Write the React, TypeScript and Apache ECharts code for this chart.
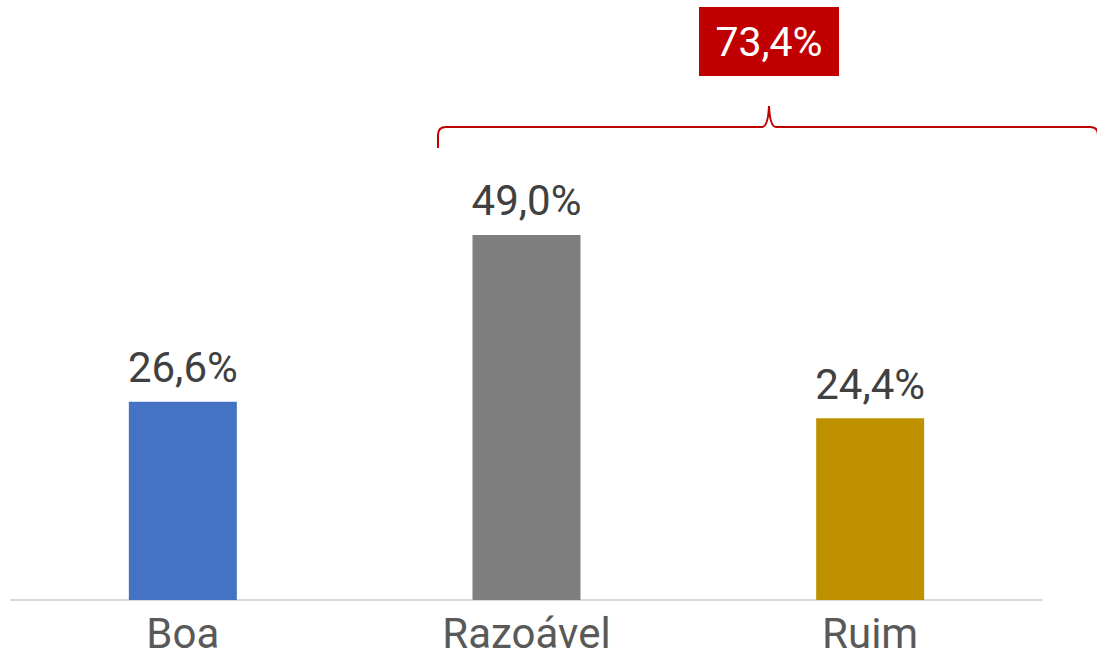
import React, { useEffect, useRef } from "react";
import * as echarts from "echarts";

const categories = ["Boa", "Razoável", "Ruim"];
const values = [26.6, 49.0, 24.4];
const barColors = ["#4472c4", "#7f7f7f", "#bf9000"];
const groupLabel = "73,4%";

const bracePath =
  "M438,148 L438,135 Q438,127 446,127 L762,127 Q768,127 769,106 Q770,127 776,127 L1090,127 Q1098,127 1098,135 L1098,148";

export default function App() {
  const ref = useRef<HTMLDivElement>(null);
  useEffect(() => {
    if (!ref.current) return;
    try {
      echarts.graphic.registerShape("brace", echarts.graphic.extendPath(bracePath, {}));
    } catch (e) {}
    const chart = echarts.init(ref.current, null, { renderer: "svg" });
    chart.setOption({
      animation: false,
      grid: { left: 11, right: 55, top: 153, bottom: 58, containLabel: false },
      xAxis: {
        type: "category",
        data: categories,
        axisLine: { show: true, lineStyle: { color: "#d9d9d9", width: 2 } },
        axisTick: { show: false },
        axisLabel: {
          color: "#595959",
          fontSize: 42,
          lineHeight: 36,
          fontFamily: "Roboto",
          margin: 15,
        },
      },
      yAxis: {
        type: "value",
        min: 0,
        max: 60,
        show: false,
        splitLine: { show: false },
      },
      series: [
        {
          type: "bar",
          barWidth: 108,
          data: values.map((v, i) => ({ value: v, itemStyle: { color: barColors[i] } })),
          label: {
            show: true,
            position: "top",
            distance: 13,
            color: "#404040",
            fontSize: 42,
            fontFamily: "Roboto",
            formatter: (p: any) => p.value.toFixed(1).replace(".", ",") + "%",
          },
        },
      ],
      graphic: [
        {
          type: "brace",
          x: 0,
          y: 0,
          shape: {},
          style: { fill: "none", stroke: "#c00000", lineWidth: 2 },
        },
        {
          type: "rect",
          shape: { x: 699, y: 7, width: 140, height: 69 },
          style: { fill: "#c00000" },
        },
        {
          type: "text",
          x: 769,
          y: 42,
          style: {
            text: groupLabel,
            fill: "#ffffff",
            fontSize: 41,
            fontFamily: "Roboto",
            align: "center",
            verticalAlign: "middle",
          },
        },
      ],
    });
    return () => chart.dispose();
  }, []);
  return (
    <div
      ref={ref}
      style={{ position: "fixed", left: 0, top: 0, width: 1097, height: 658, background: "#fff" }}
    />
  );
}
